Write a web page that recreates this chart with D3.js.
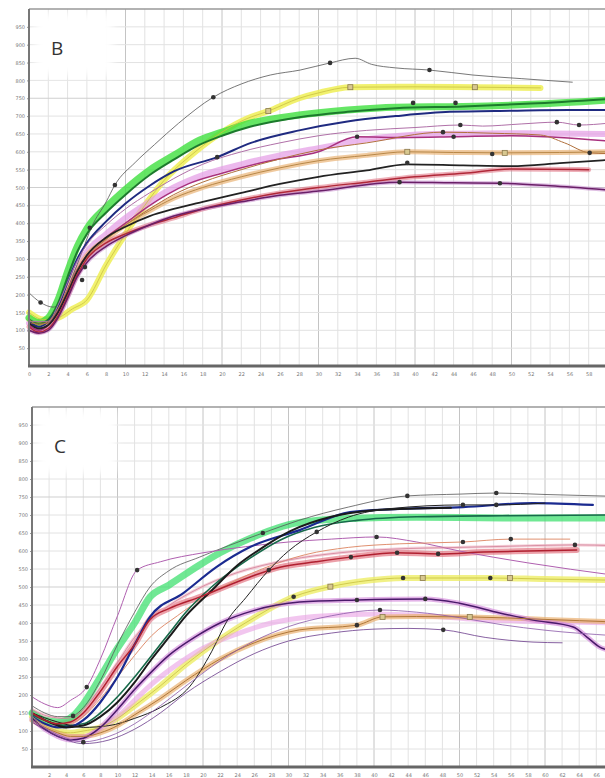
<!DOCTYPE html>
<html>
<head>
<meta charset="utf-8">
<script src="https://cdn.jsdelivr.net/npm/d3@7"></script>
<style>
  body { margin: 0; background: #fff; }
  svg { display: block; }
  .tick text { font-family: "DejaVu Sans", sans-serif; fill: #777; }
</style>
</head>
<body>
<svg id="chart"></svg>
<script>
// ---- tick labels ----
var yTicks = [50,100,150,200,250,300,350,400,450,500,550,600,650,700,750,800,850,900,950];
var xTicksB = [0,2,4,6,8,10,12,14,16,18,20,22,24,26,28,30,32,34,36,38,40,42,44,46,48,50,52,54,56,58];
var xTicksC = [2,4,6,8,10,12,14,16,18,20,22,24,26,28,30,32,34,36,38,40,42,44,46,48,50,52,54,56,58,60,62,64,66];

// ---- panel B series [time, value] ----
var bGray = [[0,205],[1.2,178],[2.5,165],[3.5,185],[4.5,250],[5.5,320],[6.5,390],[8,460],[8.9,507],[11,570],[13,620],[15.5,680],[19.1,753],[22,790],[25,815],[28.1,829],[31.2,849],[33.8,862],[35.5,845],[38,835],[41.5,829],[46,815],[51,805],[56.3,795]];
var bYellow = [[0,150],[1.5,130],[3,135],[4.5,160],[6,185],[8,283],[10,370],[12,450],[14,520],[17,595],[20,655],[22.5,692],[24.8,714],[28,750],[30,765],[33.3,781],[40,782],[46.2,781],[53,779]];
var bGreen = [[0,135],[1,122],[2,135],[3,185],[4,265],[5,335],[6,385],[8,445],[10,495],[12.5,549],[15,590],[17.7,633],[20,655],[22.9,680],[28,703],[33,717],[38,725],[45,727],[52,733],[60,745]];
var bDarkGreen = [[0,130],[1,118],[2,130],[3,175],[4,250],[5,320],[6,370],[8,430],[10,480],[12.5,535],[15,578],[17.7,620],[20,645],[22.9,670],[28,697],[33,712],[38,722],[45,727],[52,735],[60,748]];
var bNavy = [[0,125],[1,110],[2,125],[3,165],[4,235],[5,300],[6,345],[8,405],[10,455],[12.5,505],[15,545],[19.5,585],[23,625],[28,660],[33,685],[38,700],[43.6,712],[50,715],[56,717],[60,717]];
var bPink = [[0,120],[1,105],[2,120],[3,160],[4,220],[5,280],[6,320],[8,370],[10,415],[12.5,460],[15,500],[18,535],[22,565],[26,590],[30,610],[35,635],[42,650],[50,652],[60,650]];
var bMagenta = [[0,115],[1,100],[2,115],[3,155],[4,215],[5,270],[6,310],[8,360],[10,400],[12,440],[14.3,480],[16.5,510],[20,540],[25,575],[30,600],[34,642],[39,640],[44,642],[50,645],[55,640],[60,630]];
var bMauve = [[0,125],[2,125],[3,170],[4,235],[5,295],[6,340],[8,395],[10,440],[12.5,485],[15,525],[18,565],[22,600],[26,625],[30,645],[35,660],[40,668],[44.7,675],[47,672],[51,678],[54.7,683],[57,675],[60,680]];
var bBrown = [[0,120],[2,120],[3,150],[4,205],[5,265],[6,305],[8,355],[10,395],[12.5,440],[15,480],[18,515],[22,550],[26,580],[30,605],[35,625],[42.9,655],[48,652],[53,647],[55.5,625],[58.1,597],[60,595]];
var bTan = [[0,130],[1,115],[2,125],[3,160],[4,215],[5,270],[6,310],[8,355],[10,395],[12.5,435],[15,470],[18,500],[22,530],[26,555],[30,575],[35,590],[39.2,600],[44,598],[49.3,597],[55,598],[60,600]];
var bBlack = [[0,120],[1,105],[2,115],[3,150],[4,205],[5,265],[6,310],[8,360],[10,390],[12.5,420],[15,440],[18,460],[22,485],[26,510],[30,530],[35,548],[39.2,565],[45,562],[50,560],[55,568],[60,577]];
var bRed = [[0,110],[1,95],[2,105],[3,140],[4,195],[5,255],[6,300],[8,345],[10,370],[12.5,395],[15,415],[18,440],[22,465],[26,485],[30,500],[35,515],[40,530],[45,540],[50,552],[58,550]];
var bPurple = [[0,100],[1,92],[2,100],[3,135],[4,190],[5,250],[6,290],[8,335],[10,365],[12.5,395],[15,420],[18,440],[22,460],[26,478],[30,490],[38.4,515],[44,513],[48.8,512],[54,505],[60,493]];

var bDots = [[1.2,178],[5.5,241],[5.8,277],[6.3,387],[8.9,507],[19.1,753],[31.2,849],[41.5,829],[19.5,585],[39.8,737],[44.2,737],[34,642],[44,642],[42.9,655],[44.7,675],[54.7,683],[57,675],[58.1,597],[48,594],[39.2,569],[38.4,515],[48.8,512]];
var bSquares = [[24.8,714],[33.3,781],[46.2,781],[39.2,600],[49.3,597]];

// ---- panel C series [time, value] ----
var cGray = [[0,170],[1.5,150],[3,140],[4.5,140],[6,165],[8,240],[10,340],[12,430],[13.8,500],[16,545],[19.6,583],[23,615],[27,650],[31.2,685],[37,722],[43.9,753],[50,758],[54.3,761],[60,757],[68,752]];
var cMagenta = [[0,195],[1.5,175],[3,165],[4.5,185],[6.4,222],[8,300],[10,420],[12.3,547],[15,570],[20,595],[25,612],[30,625],[35,633],[40.3,639],[45,625],[50,600],[58,567],[68,533]];
var cGreen = [[0,150],[1.5,130],[3,125],[4.8,142],[6,175],[8,250],[10,330],[12,400],[13.8,472],[16,505],[19.6,561],[22,595],[25.5,635],[31,678],[37,690],[45,694],[55,692],[68,692]];
var cNavy = [[0,140],[1.5,120],[3,110],[4.5,112],[6,130],[8,180],[10,250],[12,340],[13.8,417],[17.7,483],[21.6,556],[25.5,611],[31.3,658],[37.2,708],[43,717],[50.4,722],[58.6,733],[65.6,728]];
var cTeal = [[0,145],[2,125],[4,115],[6,120],[8,150],[10,195],[12,250],[14,310],[16,370],[18,430],[21,500],[25.5,580],[29,630],[33,665],[38,685],[45,695],[55,698],[68,700]];
var cBlack = [[0,150],[2,125],[4,110],[6,115],[8,140],[10,180],[12,235],[14,300],[16,360],[18,420],[21,490],[24,560],[27,610],[30.2,655],[35,695],[40,713],[45,718],[49,720]];
var cSteep = [[0,150],[3,125],[6,110],[9,115],[12,135],[15,165],[18.5,225],[21,320],[22.8,405],[25,470],[27.7,547],[30,600],[33.3,653],[37,694],[42,718],[50.4,728],[54.3,728],[60,733]];
var cSalmon = [[0,145],[2,125],[4,120],[6,140],[8,190],[10,250],[12,310],[14,365],[17,420],[20,470],[24,520],[28,560],[32,590],[37,610],[43,620],[50.4,625],[56,633],[62.9,633]];
var cRed = [[0,150],[1.5,130],[3,120],[4.5,125],[6,150],[8,210],[10,280],[12,340],[13.8,410],[16,440],[19.6,472],[25.5,528],[29,555],[33.2,570],[37.3,583],[42.7,595],[47.5,592],[52.8,597],[58,600],[63.7,603]];
var cYellow = [[0,140],[1.5,115],[3,100],[4.5,95],[6,100],[8,110],[10,135],[12,170],[15,225],[18,285],[22,355],[26,415],[30.6,473],[34.9,501],[39.3,518],[43.4,525],[48.5,525],[53.6,525],[60,522],[68,519]];
var cPurple = [[0,135],[1.5,105],[3,85],[4.5,75],[6,80],[8,110],[10,160],[12,215],[14,265],[16,310],[19,360],[22,400],[26,435],[31.3,458],[38,464],[46,467],[50,455],[54.7,428],[58.6,408],[63.3,389],[64.9,361],[66.4,333],[68,322]];
var cPinkLow = [[0,130],[2,105],[4,85],[6,85],[8,105],[10,140],[12,185],[14,230],[17,285],[20,330],[24,370],[28,400],[33,418],[40,425],[46,420],[52,410],[58,405],[68,400]];
var cOrange = [[0,130],[1.5,110],[3,95],[4.5,85],[6,85],[8,95],[10,115],[12,145],[15,190],[18,240],[22,300],[26,345],[31.3,381],[38,394],[41,417],[45,418],[51.2,417],[60,410],[68,403]];
var cThin1 = [[0,130],[3,90],[6,70],[9,85],[12,120],[15,170],[18,225],[22,295],[26,350],[30,390],[35,420],[40.7,436],[45,430],[50,415],[55,395],[60,380],[68,365]];
var cThin2 = [[0,125],[3,85],[6,65],[9,75],[12,105],[15,150],[18,205],[22,265],[26,315],[30,350],[35,372],[40,383],[44,385],[48.1,381],[53,360],[58.6,347],[62,345]];
var cPinkRight = [[0,160],[2,140],[4,135],[6,160],[8,220],[10,290],[12,360],[15,430],[19,490],[24,540],[30,575],[36,595],[42,605],[50,610],[57,614],[63.5,617],[68,615]];

var cDots = [[4.8,142],[6,69],[6.4,222],[12.3,547],[27,650],[43.9,753],[54.3,761],[50.4,728],[54.3,728],[27.7,547],[33.3,653],[40.3,639],[37.3,583],[42.7,595],[47.5,592],[63.5,617],[50.4,625],[56,633],[30.6,473],[43.4,525],[53.6,525],[38,464],[46,467],[38,394],[40.7,436],[48.1,381]];
var cSquares = [[34.9,501],[45.7,525],[55.9,525],[41,417],[51.2,417]];

// ---- layout ----
var width = 605, height = 778;
var svg = d3.select("#chart").attr("width", width).attr("height", height);

var defs = svg.append("defs");
defs.append("filter").attr("id", "soft")
    .append("feGaussianBlur").attr("stdDeviation", 4);

function drawPanel(cfg) {
    var x = d3.scaleLinear().domain([0, cfg.xMax]).range([cfg.left, cfg.left + cfg.xMax * cfg.pxPerUnit]);
    var y = d3.scaleLinear().domain([0, 1000]).range([cfg.bottom, cfg.top]);

    var g = svg.append("g");

    // grid
    var gridX = d3.range(0, cfg.xMax + 1, 2);
    g.selectAll(".vg").data(gridX).enter().append("line")
        .attr("x1", function(d) { return x(d); })
        .attr("x2", function(d) { return x(d); })
        .attr("y1", cfg.top).attr("y2", cfg.bottom)
        .attr("stroke", function(d) { return d % 10 == 0 ? "#c4c4c4" : "#e2e2e2"; })
        .attr("stroke-width", 1);
    g.selectAll(".hg").data(d3.range(50, 1000, 50)).enter().append("line")
        .attr("x1", cfg.left).attr("x2", width)
        .attr("y1", function(d) { return y(d); })
        .attr("y2", function(d) { return y(d); })
        .attr("stroke", function(d) { return d % 250 == 0 ? "#cfcfcf" : "#e2e2e2"; })
        .attr("stroke-width", 1);

    // soft white label box
    g.append("rect")
        .attr("x", cfg.left + 6).attr("y", cfg.top + 4)
        .attr("width", 78).attr("height", 62)
        .attr("fill", "#fff").attr("filter", "url(#soft)");
    g.append("text")
        .attr("x", cfg.left + 22).attr("y", cfg.top + 46)
        .attr("font-family", "Open Sans, DejaVu Sans, sans-serif")
        .attr("font-size", 19).attr("fill", "#333")
        .text(cfg.label);

    var line = d3.line()
        .x(function(d) { return x(d[0]); })
        .y(function(d) { return y(d[1]); })
        .curve(d3.curveMonotoneX);

    cfg.series.forEach(function(s) {
        g.append("path")
            .attr("d", line(s.data))
            .attr("fill", "none")
            .attr("stroke", s.color)
            .attr("stroke-width", s.w)
            .attr("stroke-opacity", s.op)
            .attr("stroke-linejoin", "round")
            .attr("stroke-linecap", "round");
    });

    g.selectAll(".dot").data(cfg.dots).enter().append("circle")
        .attr("cx", function(d) { return x(d[0]); })
        .attr("cy", function(d) { return y(d[1]); })
        .attr("r", 2.3)
        .attr("fill", "#333");
    g.selectAll(".sq").data(cfg.squares).enter().append("rect")
        .attr("x", function(d) { return x(d[0]) - 2.5; })
        .attr("y", function(d) { return y(d[1]) - 2.5; })
        .attr("width", 5).attr("height", 5)
        .attr("fill", "#d8c890").attr("stroke", "#8a7a50").attr("stroke-width", 0.8);

    // frame
    g.append("line").attr("x1", cfg.left).attr("x2", width)
        .attr("y1", cfg.top).attr("y2", cfg.top)
        .attr("stroke", "#999").attr("stroke-width", 1.5);

    // axes
    var yAxis = d3.axisLeft(y).tickValues(yTicks).tickSize(2).tickPadding(2);
    var ya = g.append("g").attr("transform", "translate(" + cfg.left + ",0)").call(yAxis);
    ya.select(".domain").remove();
    ya.selectAll("line").attr("stroke", "#999");
    ya.selectAll("text").attr("font-size", 5);

    var xAxis = d3.axisBottom(x).tickValues(cfg.xTicks).tickSize(0).tickPadding(6);
    var xa = g.append("g").attr("transform", "translate(0," + cfg.bottom + ")").call(xAxis);
    xa.select(".domain").remove();
    xa.selectAll("text").attr("font-size", 5);

    g.append("line").attr("x1", cfg.left).attr("x2", cfg.left)
        .attr("y1", cfg.top).attr("y2", cfg.bottom)
        .attr("stroke", "#777").attr("stroke-width", 2);
    g.append("line").attr("x1", cfg.left - 1).attr("x2", width)
        .attr("y1", cfg.bottom).attr("y2", cfg.bottom)
        .attr("stroke", "#666").attr("stroke-width", 3);
}

drawPanel({
    label: "B", left: 29, top: 9, bottom: 366, xMax: 62, pxPerUnit: 9.65,
    xTicks: xTicksB, dots: bDots, squares: bSquares,
    series: [
        {data: bYellow, color: "#eeee55", w: 6, op: 0.85},
        {data: bPink, color: "#e49be6", w: 6, op: 0.7},
        {data: bTan, color: "#eab476", w: 5, op: 0.7},
        {data: bRed, color: "#e07080", w: 5, op: 0.55},
        {data: bGreen, color: "#3ee03e", w: 7, op: 0.8},
        {data: bPurple, color: "#c080c8", w: 4, op: 0.5},
        {data: bGray, color: "#555", w: 0.8, op: 1},
        {data: bYellow, color: "#c9c042", w: 0.8, op: 1},
        {data: bDarkGreen, color: "#1c7a2c", w: 2, op: 1},
        {data: bNavy, color: "#1f2a80", w: 2, op: 1},
        {data: bMauve, color: "#b070a8", w: 1, op: 1},
        {data: bMagenta, color: "#a8307e", w: 1.5, op: 1},
        {data: bBrown, color: "#b0703c", w: 1, op: 1},
        {data: bTan, color: "#b88848", w: 1, op: 1},
        {data: bBlack, color: "#222", w: 1.8, op: 1},
        {data: bRed, color: "#b02838", w: 1.5, op: 1},
        {data: bPurple, color: "#6a1f68", w: 1.5, op: 1}
    ]
});

drawPanel({
    label: "C", left: 32, top: 407, bottom: 767, xMax: 70, pxPerUnit: 8.55,
    xTicks: xTicksC, dots: cDots, squares: cSquares,
    series: [
        {data: cYellow, color: "#eeee66", w: 6, op: 0.8},
        {data: cPinkLow, color: "#eaa0e4", w: 5, op: 0.6},
        {data: cOrange, color: "#eab070", w: 5, op: 0.7},
        {data: cPurple, color: "#d080d8", w: 5, op: 0.6},
        {data: cRed, color: "#e06070", w: 6, op: 0.6},
        {data: cPinkRight, color: "#f0b0c0", w: 3, op: 0.6},
        {data: cGreen, color: "#40e070", w: 7, op: 0.75},
        {data: cGray, color: "#555", w: 0.8, op: 1},
        {data: cMagenta, color: "#b060b0", w: 1, op: 1},
        {data: cSalmon, color: "#e09070", w: 1, op: 1},
        {data: cPinkRight, color: "#d08098", w: 0.8, op: 1},
        {data: cTeal, color: "#176a4a", w: 1.6, op: 1},
        {data: cNavy, color: "#1a2a90", w: 2.2, op: 1},
        {data: cBlack, color: "#1a1a1a", w: 2, op: 1},
        {data: cSteep, color: "#222", w: 1, op: 1},
        {data: cRed, color: "#b02030", w: 1.5, op: 1},
        {data: cYellow, color: "#c8c040", w: 0.8, op: 1},
        {data: cPurple, color: "#4a1a6a", w: 1.5, op: 1},
        {data: cOrange, color: "#b07838", w: 1, op: 1},
        {data: cThin1, color: "#8a58a8", w: 0.8, op: 1},
        {data: cThin2, color: "#6a3a8a", w: 0.8, op: 1}
    ]
});
</script>
</body>
</html>
